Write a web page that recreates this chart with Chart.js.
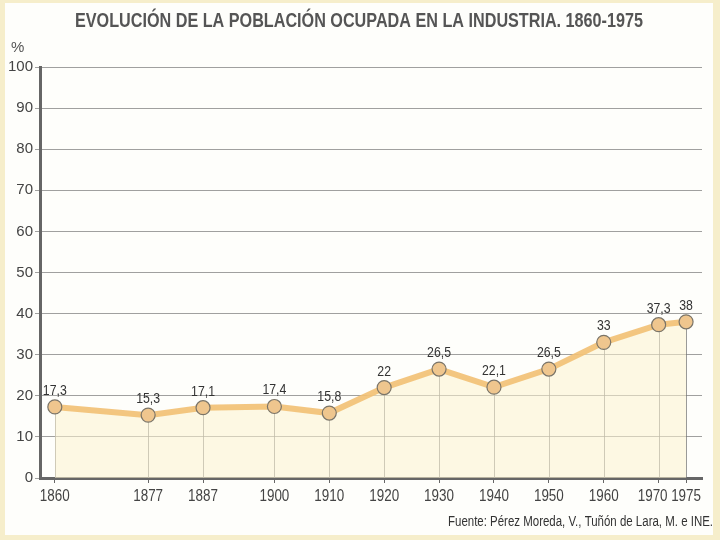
<!DOCTYPE html>
<html>
<head>
<meta charset="utf-8">
<script src="https://cdn.jsdelivr.net/npm/chart.js@4/dist/chart.umd.min.js"></script>
<style>
html,body{margin:0;padding:0;background:#f6eecb;}
canvas{display:block;}
</style>
</head>
<body>
<canvas id="c" width="720" height="540"></canvas>
<script>
const years = [1860, 1877, 1887, 1900, 1910, 1920, 1930, 1940, 1950, 1960, 1970, 1975];
const values = [17.3, 15.3, 17.1, 17.4, 15.8, 22, 26.5, 22.1, 26.5, 33, 37.3, 38];
const yTicks = [0, 10, 20, 30, 40, 50, 60, 70, 80, 90, 100];
const title = 'EVOLUCIÓN DE LA POBLACIÓN OCUPADA EN LA INDUSTRIA. 1860-1975';
const unitLabel = '%';
const source = 'Fuente: Pérez Moreda, V., Tuñón de Lara, M. e INE.';

const FONT = '"Liberation Sans", Arial, sans-serif';
const fmt = v => String(v).replace('.', ',');

// draw horizontally condensed text
function condText(ctx, text, x, y, sx, align) {
  const w = ctx.measureText(text).width * sx;
  let left = x;
  if (align === 'center') left = x - w / 2;
  else if (align === 'right') left = x - w;
  ctx.save();
  ctx.translate(left, y);
  ctx.scale(sx, 1);
  ctx.textAlign = 'left';
  ctx.fillText(text, 0, 0);
  ctx.restore();
}
function fitText(ctx, text, x, y, width, align) {
  const sx = width / ctx.measureText(text).width;
  condText(ctx, text, x, y, sx, align);
}

const decor = {
  id: 'decor',
  beforeDraw(chart) {
    const ctx = chart.ctx;
    ctx.save();
    ctx.fillStyle = '#f6eecb';
    ctx.fillRect(0, 0, 720, 540);
    ctx.fillStyle = '#fefefb';
    ctx.fillRect(5, 3, 708, 532);
    ctx.restore();
  },
  beforeDatasetsDraw(chart) {
    const ctx = chart.ctx;
    const meta = chart.getDatasetMeta(0);
    const y0 = chart.scales.y.getPixelForValue(0);
    ctx.save();
    ctx.strokeStyle = 'rgba(120,120,120,0.75)';
    ctx.lineWidth = 1;
    meta.data.forEach(pt => {
      ctx.beginPath();
      ctx.moveTo(Math.round(pt.x) + 0.5, pt.y);
      ctx.lineTo(Math.round(pt.x) + 0.5, y0);
      ctx.stroke();
    });
    ctx.restore();
  },
  afterDatasetsDraw(chart) {
    const ctx = chart.ctx;
    const meta = chart.getDatasetMeta(0);
    ctx.save();
    ctx.font = '15px ' + FONT;
    ctx.fillStyle = '#333';
    ctx.textBaseline = 'alphabetic';
    meta.data.forEach((pt, i) => {
      condText(ctx, fmt(values[i]), pt.x, pt.y - 12, 0.82, 'center');
    });
    ctx.restore();
  },
  afterDraw(chart) {
    const ctx = chart.ctx;
    const xs = chart.scales.x;
    const y0 = chart.scales.y.getPixelForValue(0);
    ctx.save();
    // x tick labels
    ctx.fillStyle = '#444';
    ctx.textBaseline = 'middle';
    ctx.font = '16px ' + FONT;
    years.forEach((yr, i) => {
      let px = xs.getPixelForValue(yr);
      if (i === years.length - 2) px -= 6;
      condText(ctx, String(yr), px, y0 + 19, 0.84, 'center');
    });
    // title
    ctx.fillStyle = '#555';
    ctx.font = 'bold 20px ' + FONT;
    fitText(ctx, title, 75, 21, 568, 'left');
    ctx.font = '15px ' + FONT;
    ctx.fillStyle = '#555';
    ctx.textAlign = 'left';
    ctx.fillText(unitLabel, 11, 48);
    ctx.fillStyle = '#333';
    ctx.font = '14px ' + FONT;
    fitText(ctx, source, 448, 522, 265, 'left');
    ctx.restore();
  }
};

new Chart(document.getElementById('c'), {
  type: 'line',
  data: {
    datasets: [{
      data: years.map((y, i) => ({ x: y, y: values[i] })),
      borderColor: 'rgba(242,192,115,0.9)',
      borderWidth: 6,
      fill: 'origin',
      backgroundColor: 'rgba(252,242,208,0.55)',
      pointRadius: 7,
      pointBackgroundColor: '#efc68e',
      pointBorderColor: '#7a7468',
      pointBorderWidth: 1.2,
      tension: 0
    }]
  },
  plugins: [decor],
  options: {
    responsive: false,
    animation: false,
    devicePixelRatio: 1,
    layout: { padding: { left: 0, right: 18, top: 67, bottom: 0 } },
    plugins: { legend: { display: false }, tooltip: { enabled: false }, title: { display: false } },
    scales: {
      x: {
        type: 'linear',
        min: 1857.3,
        max: 1977.9,
        afterBuildTicks: s => { s.ticks = years.map(v => ({ value: v })); },
        afterFit: s => { s.height = 62; },
        grid: { display: true, drawOnChartArea: false, drawTicks: true, tickLength: 5, color: '#666', lineWidth: 1 },
        border: { display: true, color: '#666', width: 3 },
        ticks: { display: false }
      },
      y: {
        min: 0,
        max: 100,
        afterBuildTicks: s => { s.ticks = yTicks.map(v => ({ value: v })); },
        afterFit: s => { s.width = 40; },
        grid: { color: 'rgba(120,120,120,0.7)', lineWidth: 1, tickLength: 5, drawTicks: true },
        border: { display: true, color: '#666', width: 3 },
        ticks: {
          padding: 2,
          color: '#444',
          font: { family: FONT, size: 15 },
          callback: v => String(v)
        }
      }
    }
  }
});
</script>
</body>
</html>
